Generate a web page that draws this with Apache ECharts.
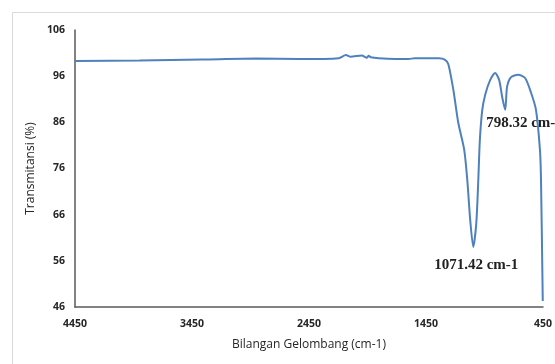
<!DOCTYPE html>
<html>
<head>
<meta charset="utf-8">
<script src="https://cdn.jsdelivr.net/npm/echarts@6/dist/echarts.min.js"></script>
<style>
  html, body { margin: 0; padding: 0; background: #fff; }
  #chart { width: 555px; height: 364px; }
</style>
</head>
<body>
<div id="chart"></div>
<script>
// wavenumber (cm-1) and transmittance (%)
let wavenumbers = [4450, 3900, 3361, 2900, 2535, 2195, 2135, 2093, 1999, 1957, 1939, 1922, 1854, 1599, 1548, 1471, 1340,
  1290, 1259, 1216, 1174, 1123, 1097, 1072, 1046, 1020, 1003, 990, 970, 944, 901, 859, 825, 799, 773, 757, 723, 663, 603, 552, 510, 476, 467, 452]
let transmittance = [99.3, 99.4, 99.6, 99.8, 99.7, 99.9, 100.6, 100.2, 100.5, 100.0, 100.4, 100.1, 99.9, 99.7, 99.9, 99.9, 99.9,
  99.6, 98.6, 93.0, 85.9, 80.0, 73.5, 64.8, 59.0, 64.2, 73.5, 82.0, 88.5, 92.0, 95.2, 96.7, 95.2, 91.5, 88.7, 93.7, 95.8, 96.3, 95.6, 92.4, 88.7, 80.0, 73.5, 47.3]

let xTicks = [4450, 3450, 2450, 1450, 450]
let yTicks = [46, 56, 66, 76, 86, 96, 106]

// peak annotations: text, anchor point on the curve, pixel offset of the text
let peakText = ['1071.42 cm-1', '798.32 cm-1']
let peakCoord = [[1046, 59.0], [773, 88.7]]
let peakOffset = [[3, 18], [-19, 13]]
let peakAlign = ['center', 'left']

let seriesData = []
for (let i = 0; i < wavenumbers.length; i++) {
  seriesData.push([wavenumbers[i], transmittance[i]])
}

let myChart = echarts.init(document.getElementById('chart'))

let option = {
  animation: false,
  backgroundColor: '#fff',
  grid: {
    left: 75,
    right: 10,
    top: 30,
    bottom: 57
  },
  xAxis: {
    type: 'value',
    inverse: true,
    min: xTicks[xTicks.length - 1],
    max: xTicks[0],
    interval: 1000,
    name: 'Bilangan Gelombang (cm-1)',
    nameLocation: 'middle',
    nameGap: 32,
    nameTextStyle: {color: '#262626', fontSize: 12, fontFamily: 'Open Sans'},
    axisLine: {show: true, lineStyle: {color: '#595959', width: 1.5}},
    axisTick: {show: false},
    splitLine: {show: false},
    axisLabel: {
      color: '#262626',
      fontSize: 10.5,
      fontWeight: 'bold',
      fontFamily: 'Open Sans',
      margin: 12,
      formatter: function (v) { return String(v) },
      showMinLabel: true,
      showMaxLabel: true
    }
  },
  yAxis: {
    type: 'value',
    min: yTicks[0],
    max: yTicks[yTicks.length - 1],
    interval: 10,
    name: 'Transmitansi (%)',
    nameLocation: 'middle',
    nameGap: 31,
    nameTextStyle: {color: '#262626', fontSize: 12, fontFamily: 'Open Sans'},
    axisLine: {show: true, lineStyle: {color: '#595959', width: 1.5}},
    axisTick: {show: false},
    splitLine: {show: false},
    axisLabel: {
      color: '#262626',
      fontSize: 10.5,
      fontWeight: 'bold',
      fontFamily: 'Open Sans',
      margin: 10
    }
  },
  series: [{
    type: 'line',
    data: seriesData,
    showSymbol: false,
    smooth: 0.25,
    lineStyle: {color: '#4f81bd', width: 2}
  }]
}

myChart.setOption(option)

// outer frame and peak labels, placed through the chart's own coordinate system
let graphics = [{
  type: 'rect',
  shape: {x: 12.5, y: 12.5, width: 600, height: 400},
  style: {fill: 'none', stroke: '#d9d9d9', lineWidth: 1},
  silent: true,
  z: -1
}]
for (let i = 0; i < peakText.length; i++) {
  let p = myChart.convertToPixel({gridIndex: 0}, peakCoord[i])
  graphics.push({
    type: 'text',
    x: p[0] + peakOffset[i][0],
    y: p[1] + peakOffset[i][1],
    style: {
      text: peakText[i],
      fill: '#222',
      font: 'bold 15px "Liberation Serif"',
      align: peakAlign[i],
      verticalAlign: 'middle'
    }
  })
}
myChart.setOption({graphic: graphics})
</script>
</body>
</html>
